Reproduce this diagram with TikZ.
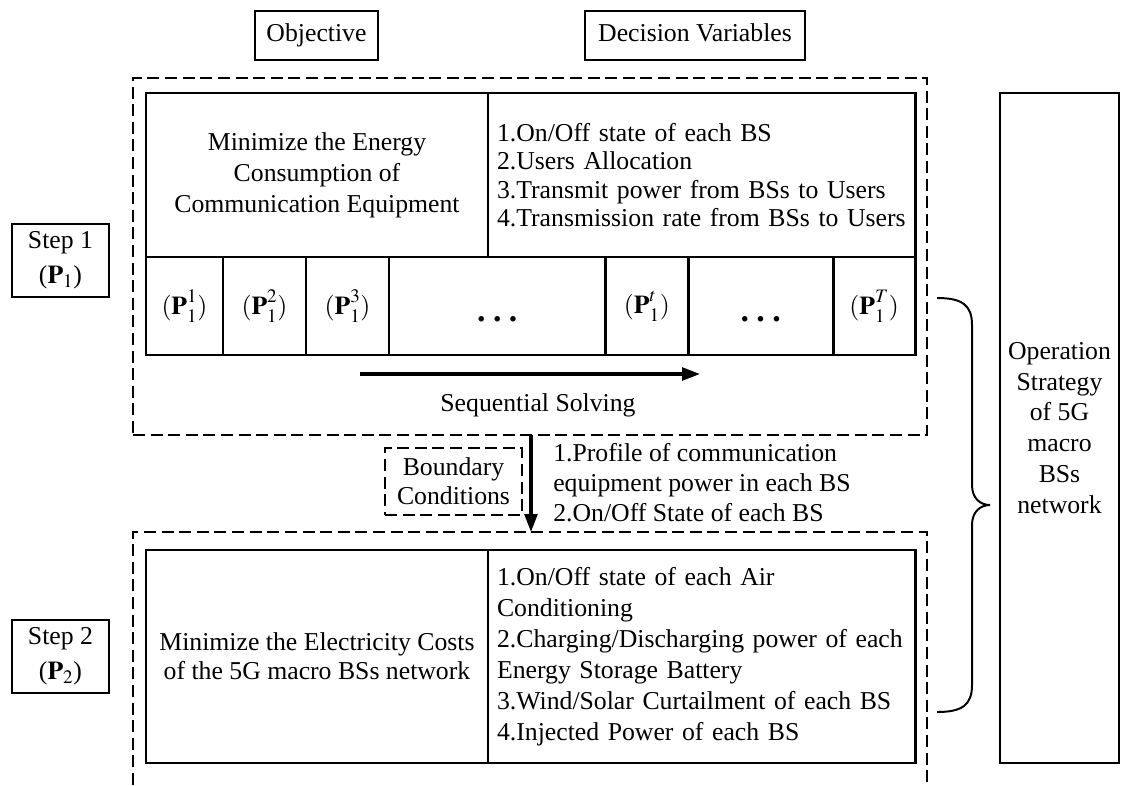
\documentclass[tikz,border=0pt]{standalone}
\usepackage{amsmath}
\usepackage{mathptmx}
\usepackage{fontspec}
\setmainfont{Liberation Serif}
\usepackage{tikz}
\usetikzlibrary{positioning}
\usetikzlibrary{arrows.meta}

\newcommand{\subprob}[1]{$(\mathbf{P}_{1}^{\raisebox{2pt}{$\scriptstyle #1$}})$}
\newcommand{\skipdots}{{\fontsize{24}{24}\selectfont\textbf{.\hspace{0.22em}.\hspace{0.22em}.}}}

\begin{document}
\begin{tikzpicture}[x=0.025cm, y=-0.025cm, font=\fontsize{18.3}{22}\selectfont,
        box/.style={draw=black, line width=1.3pt, inner sep=0pt, outer sep=0pt, align=center},
        cell/.style={draw=black, line width=2pt, inner sep=0pt, outer sep=0pt, align=center, minimum height=2.45cm},
        dashbox/.style={draw=black, line width=1.3pt, dash pattern=on 0.3cm off 0.14cm},
        flow/.style={line width=2.2pt, -{Triangle[length=4.5mm,width=3.2mm]}}]
        \useasboundingbox (0,0) rectangle (1122,785);

        \node[box, minimum width=3.075cm, minimum height=1.225cm]    (objective)   at (316.5,35.5) {\strut Objective};
        \node[box, minimum width=5.5cm, minimum height=1.225cm]      (decision)    at (695,35.5)   {\strut Decision Variables};

        \node[dashbox, minimum width=19.85cm, minimum height=8.925cm] (stage1) at (530,256.5) {};
        \node[cell, minimum width=8.55cm, minimum height=4.1cm]      (goal1)       at (317,175)    {Minimize the Energy\\Consumption of\\Communication Equipment};
        \node[cell, text width=10.225cm, inner xsep=0.225cm, minimum height=4.1cm, align=left,
              font=\fontsize{18.3}{20.3}\selectfont]                  (vars1)       [right=0pt of goal1]
              {1.On/Off state of each BS\\2.Users Allocation\\3.Transmit power from BSs to Users\\4.Transmission rate from BSs to Users};

        \node[cell, minimum width=1.925cm, anchor=north west]        (sub1)        at (goal1.south west) {\subprob{1}};
        \node[cell, minimum width=2.075cm]                           (sub2)        [right=0pt of sub1] {\subprob{2}};
        \node[cell, minimum width=2.075cm]                           (sub3)        [right=0pt of sub2] {\subprob{3}};
        \node[cell, minimum width=5.4125cm, text height=22pt, text depth=0pt] (sub4) [right=0pt of sub3] {\skipdots};
        \node[cell, minimum width=2.0625cm]                          (sub5)        [right=0pt of sub4] {\subprob{t}};
        \node[cell, minimum width=3.625cm, text height=22pt, text depth=0pt] (sub6) [right=0pt of sub5] {\skipdots};
        \node[cell, minimum width=2.05cm]                            (sub7)        [right=0pt of sub6] {\subprob{T}};

        \coordinate (seqstart) at (360,374);
        \coordinate (seqend)   at (700,374);
        \draw[flow] (seqstart) -- (seqend);
        \node (seqlabel) at (538,405) {Sequential Solving};

        \node[box, minimum width=2.425cm, minimum height=1.825cm, font=\fontsize{18.3}{25}\selectfont] (step1) at (60.5,260.5) {Step 1\\($\mathbf{P}_1$)};

        \node[dashbox, minimum width=3.425cm, minimum height=1.675cm, align=center, inner sep=0pt,
              font=\fontsize{18.3}{20.6}\selectfont]                  (bound)       at (453.5,481.5) {Boundary\\Conditions};
        \coordinate (passtop) at (531,435);
        \coordinate (passbot) at (531,532);
        \draw[flow] (passtop) -- (passbot);
        \node[anchor=west, align=left, inner sep=0pt, font=\fontsize{18.3}{21.3}\selectfont] (passlabel) at (553,483)
              {1.Profile of communication\\equipment power in each BS\\2.On/Off State of each BS};

        \draw[dashbox] (133,785) |- (927,532) -- (927,785);
        \node[cell, minimum width=8.55cm, minimum height=5.325cm, font=\fontsize{18.3}{20.6}\selectfont] (goal2) at (317,656.5)
              {Minimize the Electricity Costs\\of the 5G macro BSs network};
        \node[cell, text width=10.225cm, inner xsep=0.225cm, minimum height=5.325cm, align=left] (vars2) [right=0pt of goal2]
              {1.On/Off state of each Air\\Conditioning\\2.Charging/Discharging power of each\\Energy Storage Battery\\3.Wind/Solar Curtailment of each BS\\4.Injected Power of each BS};

        \node[box, minimum width=2.425cm, minimum height=1.825cm, font=\fontsize{18.3}{25}\selectfont] (step2) at (60.5,656.5) {Step 2\\($\mathbf{P}_2$)};

        \node[box, line width=1.8pt, minimum width=2.975cm, minimum height=16.75cm] (strategy) at (1059.5,428)
              {Operation\\Strategy\\of 5G\\macro\\BSs\\network};

        \coordinate (bracetop) at (937,298);
        \coordinate (bracetip) at (990,505);
        \coordinate (bracebot) at (937,712);
        \draw[line width=1.4pt] (bracetop) .. controls (962,298) and (972,305) .. (972,325) -- (972,485)
              .. controls (972,498) and (980,505) .. (bracetip) .. controls (980,505) and (972,512) .. (972,525)
              -- (972,685) .. controls (972,705) and (962,712) .. (bracebot);

    \end{tikzpicture}
\end{document}
